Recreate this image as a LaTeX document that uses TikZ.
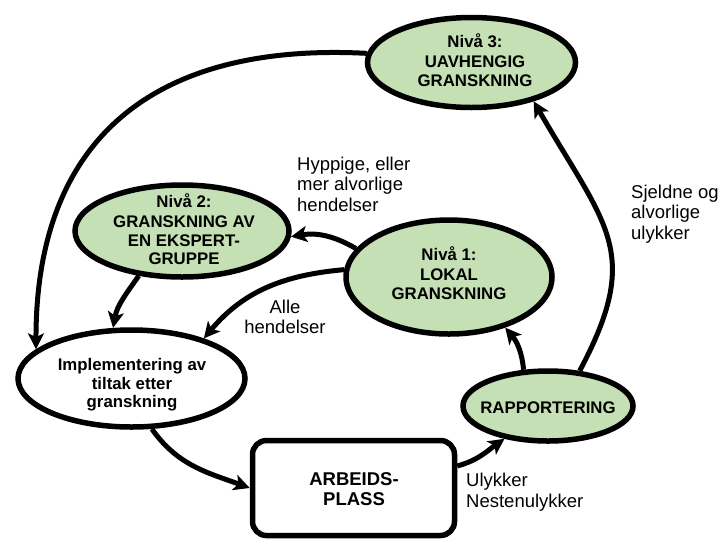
\documentclass[tikz,border=0pt]{standalone}
\usepackage{fontspec}
\setmainfont{Liberation Sans}
\usetikzlibrary{shapes.geometric,arrows.meta}
\definecolor{lgreen}{HTML}{C5E0B4}
\begin{document}
\begin{tikzpicture}[x=1pt,y=-1pt,
  ell/.style={ellipse, draw=black, line width=5.5pt, fill=lgreen, inner sep=0pt},
  box/.style={rectangle, rounded corners=14pt, draw=black, line width=5.5pt, fill=white, inner sep=0pt},
  bt/.style={font=\fontsize{16.8}{18.5}\selectfont\bfseries, align=center, inner sep=0pt},
  lt/.style={font=\fontsize{18.5}{20.5}\selectfont, align=left, inner sep=0pt},
  arr/.style={line width=5pt, -{Stealth[length=16pt,width=16pt,inset=4pt]}}]
\useasboundingbox (0,0) rectangle (727,542);
\fill[white] (0,0) rectangle (727,542);

% shapes
\node[ell, minimum width=208pt, minimum height=90pt] (n3) at (471.5,62.5) {};
\node[ell, minimum width=214pt, minimum height=92pt] (n2) at (182,231) {};
\node[ell, minimum width=206pt, minimum height=114pt] (n1) at (449,277) {};
\node[ell, fill=white, minimum width=227pt, minimum height=97pt] (impl) at (131.5,378.5) {};
\node[ell, minimum width=170pt, minimum height=70pt] (rap) at (548,406) {};
\node[box, minimum width=202pt, minimum height=95pt] (ap) at (353.5,488) {};

% texts in shapes
\node[bt] (n3t) at (475,60) {Nivå 3:\\[2pt]UAVHENGIG\\GRANSKNING};
\node[bt] (n2t) at (184,229) {Nivå 2:\\[2pt]GRANSKNING AV\\EN EKSPERT-\\GRUPPE};
\node[bt] (n1t) at (449,273) {Nivå 1:\\[2pt]LOKAL\\GRANSKNING};
\node[bt] (implt) at (132,385) {Implementering av\\tiltak etter\\granskning};
\node[bt] (rapt) at (548,408) {RAPPORTERING};
\node[bt, font=\fontsize{18.5}{19.5}\selectfont\bfseries] (apt) at (354,489) {ARBEIDS-\\PLASS};

% labels
\node[lt, anchor=west] (hyp) at (297,184) {Hyppige, eller\\mer alvorlige\\hendelser};
\node[lt, anchor=west] (sjel) at (631,214) {Sjeldne og\\alvorlige\\ulykker};
\node[lt, align=center] (alle) at (285,317) {Alle\\hendelser};
\node[lt, anchor=west] (uly) at (466,492) {Ulykker\\Nestenulykker};

% connectors
\draw[arr] (n3.175) to[out=177,in=90,looseness=1.22] (impl.163);
\draw[arr] (rap.48) .. controls +(-62:135) and +(60:145) .. (n3.-32);
\draw[arr] (rap.124) to[out=95,in=-50] (n1.-42);
\draw[arr] (n1.163) to[bend right=20] (n2.-3);
\draw[arr] (n1.176) to[out=185,in=50] (impl.29);
\draw[arr] (n2.-134) to[out=-125,in=80] (impl.110);
\draw[arr] (impl.-68) to[out=-55,in=160] (ap.west);
\draw[arr] (ap.12) to[out=15,in=-145] (rap.-143);
\end{tikzpicture}
\end{document}
